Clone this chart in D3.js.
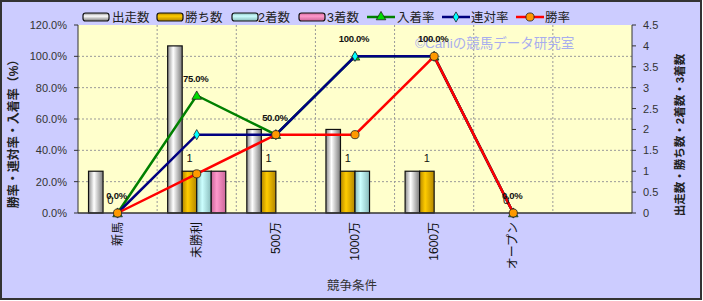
<!DOCTYPE html>
<html>
<head>
<meta charset="utf-8">
<script src="https://cdn.jsdelivr.net/npm/d3@7"></script>
<style>
  body { margin: 0; background: #fff; }
  text { font-family: "Liberation Sans", Arial, "Noto Sans CJK JP", sans-serif; }
</style>
</head>
<body>
<div class="chart"></div>
<script>
// data
const categories = ["新馬", "未勝利", "500万", "1000万", "1600万", "オープン", ""];
const barSeries = ["出走数", "勝ち数", "2着数", "3着数"];
const starts  = [1, 4, 2, 2, 1, 0, null];
const wins    = [0, 1, 1, 1, 1, 0, null];
const seconds = [0, 1, 0, 1, 0, 0, null];
const thirds  = [0, 1, 0, 0, 0, 0, null];
const placeRate = [0, 0.75, 0.5, 1.0, 1.0, 0, null];   // 入着率
const rentaiRate = [0, 0.5, 0.5, 1.0, 1.0, 0, null];   // 連対率
const winRate = [0, 0.25, 0.5, 0.5, 1.0, 0, null];     // 勝率
const leftTicks = [0, 0.2, 0.4, 0.6, 0.8, 1.0, 1.2];
const rightTicks = [0, 0.5, 1, 1.5, 2, 2.5, 3, 3.5, 4, 4.5];

const W = 703, H = 301;
const plot = { left: 78, right: 632, top: 25, bottom: 213 };

const svg = d3.select(".chart").append("svg")
    .attr("width", W)
    .attr("height", H);

// background
svg.append("rect").attr("x", 1).attr("y", 1).attr("width", W - 3).attr("height", H - 3)
    .attr("fill", "#ccccff").attr("stroke", "#333").attr("stroke-width", 2);

svg.append("rect")
    .attr("x", plot.left).attr("y", plot.top)
    .attr("width", plot.right - plot.left).attr("height", plot.bottom - plot.top)
    .attr("fill", "#ffffcc");

const x = d3.scaleBand().domain(d3.range(categories.length)).range([plot.left, plot.right]);
const bw = x.bandwidth();
const x1 = d3.scaleBand().domain(barSeries).range([-bw * 0.367, bw * 0.367]);
const yL = d3.scaleLinear().domain([0, 1.2]).range([plot.bottom, plot.top]);
const yR = d3.scaleLinear().domain([0, 4.5]).range([plot.bottom, plot.top]);
const cx = i => x(i) + bw / 2;

// gradients
const defs = svg.append("defs");
const grads = {
  "出走数": ["#8c8c8c", "#ffffff", "#7a7a7a"],
  "勝ち数": ["#b38600", "#ffcc00", "#b38600"],
  "2着数": ["#88bbbb", "#ccffff", "#88bbbb"],
  "3着数": ["#cc6699", "#ff99cc", "#cc6699"]
};
barSeries.forEach((s, k) => {
  ["h", "v"].forEach(dir => {
    const g = defs.append("linearGradient").attr("id", "g" + k + dir)
        .attr("x1", 0).attr("y1", 0)
        .attr("x2", dir === "h" ? 1 : 0).attr("y2", dir === "h" ? 0 : 1);
    g.append("stop").attr("offset", "0%").attr("stop-color", grads[s][0]);
    g.append("stop").attr("offset", "38%").attr("stop-color", grads[s][1]);
    g.append("stop").attr("offset", "100%").attr("stop-color", grads[s][2]);
  });
});

// gridlines
svg.append("g").selectAll("line")
    .data(leftTicks.slice(1, -1))
    .join("line")
    .attr("x1", plot.left).attr("x2", plot.right)
    .attr("y1", d => yL(d)).attr("y2", d => yL(d))
    .attr("stroke", "#999").attr("stroke-dasharray", "2,2");

svg.append("g").selectAll("line")
    .data(d3.range(1, categories.length))
    .join("line")
    .attr("x1", d => x(d)).attr("x2", d => x(d))
    .attr("y1", plot.top).attr("y2", plot.bottom)
    .attr("stroke", "#999").attr("stroke-dasharray", "2,2");

// bars
const barData = [starts, wins, seconds, thirds];
barSeries.forEach((s, k) => {
  svg.append("g").selectAll("rect")
      .data(barData[k].map((v, i) => ({ v, i })).filter(d => d.v > 0))
      .join("rect")
      .attr("x", d => cx(d.i) + x1(s))
      .attr("width", x1.bandwidth())
      .attr("y", d => yR(d.v))
      .attr("height", d => yR(0) - yR(d.v))
      .attr("fill", "url(#g" + k + "h)")
      .attr("stroke", "#111").attr("stroke-width", 1.2);
});

// axes lines
svg.append("line").attr("x1", plot.left).attr("x2", plot.right)
    .attr("y1", plot.bottom).attr("y2", plot.bottom).attr("stroke", "#333").attr("stroke-width", 1.5);
svg.append("line").attr("x1", plot.left).attr("x2", plot.left)
    .attr("y1", plot.top).attr("y2", plot.bottom).attr("stroke", "#333");
svg.append("line").attr("x1", plot.right).attr("x2", plot.right)
    .attr("y1", plot.top).attr("y2", plot.bottom).attr("stroke", "#333");

// left ticks
const lt = svg.append("g").selectAll("g").data(leftTicks).join("g");
lt.append("line").attr("x1", plot.left - 4).attr("x2", plot.left)
    .attr("y1", d => yL(d)).attr("y2", d => yL(d)).attr("stroke", "#333");
lt.append("text").attr("x", 67).attr("y", d => yL(d) + 4)
    .attr("text-anchor", "end").attr("font-size", 11).attr("fill", "#333")
    .text(d => d3.format(".1%")(d));

// right ticks
const rt = svg.append("g").selectAll("g").data(rightTicks).join("g");
rt.append("line").attr("x1", plot.right).attr("x2", plot.right + 4)
    .attr("y1", d => yR(d)).attr("y2", d => yR(d)).attr("stroke", "#333");
rt.append("text").attr("x", 643).attr("y", d => yR(d) + 4)
    .attr("font-size", 11).attr("fill", "#333")
    .text(d => d);

// category labels
svg.append("g").selectAll("text")
    .data(categories.map((c, i) => ({ c, i })).filter(d => d.c))
    .join("text")
    .attr("transform", d => `translate(${cx(d.i)},222) rotate(-90)`)
    .attr("text-anchor", "end").attr("dy", "0.35em")
    .attr("font-size", 12).attr("fill", "#111")
    .text(d => d.c);

// axis titles
svg.append("text").attr("x", 352).attr("y", 290).attr("text-anchor", "middle")
    .attr("font-size", 12.5).attr("fill", "#333").text("競争条件");
svg.append("text").attr("transform", "translate(14,131) rotate(-90)")
    .attr("text-anchor", "middle").attr("dy", "0.35em")
    .attr("font-size", 12).attr("font-weight", "bold").attr("fill", "#222")
    .text("勝率・連対率・入着率（%）");
svg.append("text").attr("transform", "translate(680,135) rotate(-90)")
    .attr("text-anchor", "middle").attr("dy", "0.35em")
    .attr("font-size", 11.5).attr("font-weight", "bold").attr("fill", "#222")
    .text("出走数・勝ち数・2着数・3着数");

// watermark
svg.append("text").attr("x", 415).attr("y", 48)
    .attr("font-size", 13.5).attr("fill", "#9fa6f2").attr("opacity", 0.9)
    .text("©Caniの競馬データ研究室");

// lines
const lineSeries = [
  { name: "入着率", values: placeRate, color: "#008000", marker: d3.symbolTriangle, mfill: "#00dd00", msize: 40 },
  { name: "連対率", values: rentaiRate, color: "#000080", marker: d3.symbolDiamond, mfill: "#00ffff", msize: 30 },
  { name: "勝率", values: winRate, color: "#ff0000", marker: d3.symbolCircle, mfill: "#ff9900", msize: 52 }
];
const line = d3.line()
    .defined(d => d.v !== null)
    .x(d => cx(d.i)).y(d => yL(d.v));

lineSeries.forEach(s => {
  const pts = s.values.map((v, i) => ({ v, i }));
  svg.append("path").datum(pts)
      .attr("d", line)
      .attr("fill", "none").attr("stroke", s.color).attr("stroke-width", 2.5);
  svg.append("g").selectAll("path")
      .data(pts.filter(d => d.v !== null))
      .join("path")
      .attr("transform", d => `translate(${cx(d.i)},${yL(d.v) + (s.marker === d3.symbolTriangle ? 1 : 0)})`)
      .attr("d", d3.symbol().type(s.marker).size(s.msize))
      .attr("fill", s.mfill).attr("stroke", "#222").attr("stroke-width", 0.8);
});

// data labels
svg.append("g").selectAll("text")
    .data(placeRate.map((v, i) => ({ v, i })).filter(d => d.v !== null))
    .join("text")
    .attr("x", d => cx(d.i) - 1).attr("y", d => yL(d.v) - 14)
    .attr("text-anchor", "middle").attr("font-size", 9.5).attr("font-weight", "bold")
    .attr("letter-spacing", -0.3).attr("fill", "#111")
    .text(d => d3.format(".1%")(d.v));

svg.append("g").selectAll("text")
    .data(wins.map((v, i) => ({ v, i })).filter(d => d.v !== null))
    .join("text")
    .attr("x", d => cx(d.i) + x1("勝ち数") + x1.bandwidth() / 2)
    .attr("y", d => yR(d.v) - 9)
    .attr("text-anchor", "middle").attr("font-size", 11).attr("fill", "#111")
    .text(d => d.v);

// legend
const legendItems = [
  { name: "出走数", type: "bar", k: 0, x: 83, tx: 112 },
  { name: "勝ち数", type: "bar", k: 1, x: 157, tx: 185 },
  { name: "2着数", type: "bar", k: 2, x: 232, tx: 258 },
  { name: "3着数", type: "bar", k: 3, x: 299, tx: 327 },
  { name: "入着率", type: "line", s: 0, x: 367, tx: 397 },
  { name: "連対率", type: "line", s: 1, x: 442, tx: 471 },
  { name: "勝率", type: "line", s: 2, x: 516, tx: 545 }
];
const ly = 17;
const lg = svg.append("g").selectAll("g").data(legendItems).join("g");
lg.filter(d => d.type === "bar").append("rect")
    .attr("x", d => d.x).attr("y", ly - 4).attr("width", 26).attr("height", 8).attr("rx", 2.5)
    .attr("fill", d => "url(#g" + d.k + "v)").attr("stroke", "#111").attr("stroke-width", 1.2);
const ll = lg.filter(d => d.type === "line");
ll.append("line").attr("x1", d => d.x).attr("x2", d => d.x + 28)
    .attr("y1", ly).attr("y2", ly)
    .attr("stroke", d => lineSeries[d.s].color).attr("stroke-width", 2.5);
ll.append("path")
    .attr("transform", d => `translate(${d.x + 14},${ly})`)
    .attr("d", d => d3.symbol().type(lineSeries[d.s].marker).size(lineSeries[d.s].msize)())
    .attr("fill", d => lineSeries[d.s].mfill).attr("stroke", "#222").attr("stroke-width", 0.8);
lg.append("text").attr("x", d => d.tx).attr("y", ly + 4.5)
    .attr("font-size", 12.5).attr("fill", "#222")
    .text(d => d.name);
</script>
</body>
</html>
